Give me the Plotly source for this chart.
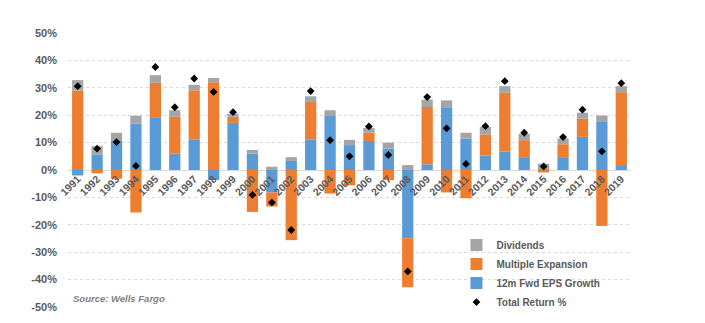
import plotly.graph_objects as go

years = [str(y) for y in range(1991, 2020)]
eps_growth = [-2.0, 5.7, 10.6, 17.0, 19.0, 6.0, 11.2, -3.6, 17.2, 6.0,
              -8.2, 3.3, 11.2, 19.7, 9.1, 10.6, 7.8, -24.9, 2.1, 22.9,
              11.4, 5.3, 6.7, 4.7, 0.3, 4.7, 12.1, 17.8, 1.8]
multiple_exp = [29.0, -1.2, -3.2, -15.5, 12.8, 13.4, 17.9, 32.0, 2.2, -15.3,
                -5.1, -25.6, 13.6, -8.6, -5.6, 3.0, -3.7, -17.9, 20.9, -8.2,
                -10.3, 7.7, 21.5, 6.2, -0.9, 4.7, 6.6, -20.4, 26.6]
dividends = [3.8, 3.0, 3.0, 2.8, 2.8, 2.4, 2.0, 1.6, 1.1, 1.3,
             1.2, 1.4, 2.1, 2.1, 1.9, 1.8, 2.2, 1.8, 2.7, 2.5,
             2.2, 2.7, 2.4, 2.3, 2.0, 2.1, 2.2, 2.1, 2.2]
total_return = [30.6, 7.8, 10.2, 1.5, 37.6, 22.9, 33.4, 28.5, 21.1, -9.1,
                -11.9, -21.9, 28.8, 10.9, 5.0, 15.9, 5.5, -37.0, 26.6, 15.2,
                2.2, 16.0, 32.4, 13.6, 1.3, 12.0, 22.0, 6.8, 31.7]
y_ticks = [-50, -40, -30, -20, -10, 0, 10, 20, 30, 40, 50]

BLUE = "#5B9BD5"
ORANGE = "#ED7D31"
GRAY = "#A5A5A5"
TXT = "#595959"
FONT = "Liberation Sans, Arial, sans-serif"

fig = go.Figure()
fig.add_trace(go.Bar(x=years, y=eps_growth, name="12m Fwd EPS Growth",
                     marker=dict(color=BLUE, line=dict(width=0)), legendrank=3))
fig.add_trace(go.Bar(x=years, y=multiple_exp, name="Multiple Expansion",
                     marker=dict(color=ORANGE, line=dict(width=0)), legendrank=2))
fig.add_trace(go.Bar(x=years, y=dividends, name="Dividends",
                     marker=dict(color=GRAY, line=dict(width=0)), legendrank=1))
fig.add_trace(go.Scatter(x=years, y=total_return, name="Total Return %", mode="markers",
                         marker=dict(symbol="diamond", size=6, color="black"),
                         legendrank=4))

fig.update_layout(
    width=705, height=323,
    barmode="relative", bargap=0.42,
    margin=dict(l=68, r=74, t=33, b=16, autoexpand=False),
    paper_bgcolor="white", plot_bgcolor="white",
    font=dict(family=FONT, color=TXT, size=11, weight="bold"),
    showlegend=True,
    legend=dict(x=0.69, y=-0.035, xanchor="left", yanchor="bottom",
                bgcolor="rgba(0,0,0,0)", font=dict(size=10, color=TXT, weight="bold"),
                itemwidth=30, tracegroupgap=0),
    xaxis=dict(type="category", anchor="free", position=0.5, tickangle=-45,
               range=[-0.5, len(years) - 0.5],
               showgrid=False, showline=False, ticks="",
               tickfont=dict(size=10.5, color=TXT, weight="bold")),
    yaxis=dict(range=[-50, 50], tickvals=y_ticks,
               ticktext=[f"{v}%" for v in y_ticks],
               showgrid=True, gridcolor="#D9D9D9", griddash="dot", gridwidth=1,
               zeroline=True, zerolinecolor="#D9D9D9", zerolinewidth=1,
               tickfont=dict(size=11, color=TXT, weight="bold"), ticks="",
               ticklabelstandoff=10),
    annotations=[dict(text="<i>Source: Wells Fargo</i>", xref="paper", yref="paper",
                      x=0.005, y=0.005, xanchor="left", yanchor="bottom", showarrow=False,
                      font=dict(size=9.5, color="#7F7F7F", family=FONT))],
)

fig.write_html("out.html")
